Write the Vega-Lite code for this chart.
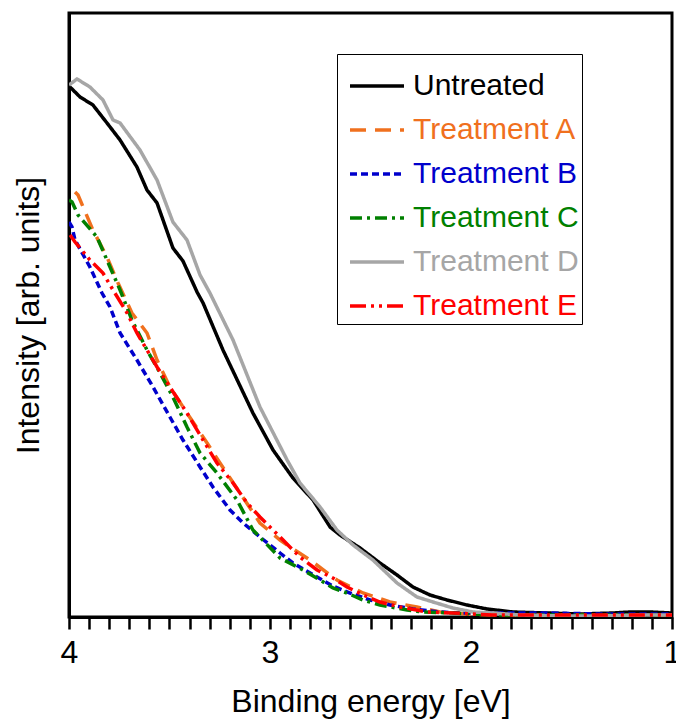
{
  "$schema": "https://vega.github.io/schema/vega-lite/v6.json",
  "autosize": "none",
  "width": 603,
  "height": 604,
  "padding": {"left": 69, "top": 13, "right": 4, "bottom": 108},
  "background": "white",
  "config": {
    "font": "Liberation Sans",
    "view": {"stroke": "black", "strokeWidth": 3}
  },
  "datasets": {
    "curves": [
      {"s": "Untreated", "x": 4.000, "y": 531}, {"s": "Untreated", "x": 3.945, "y": 520}, {"s": "Untreated", "x": 3.881, "y": 512}, {"s": "Untreated", "x": 3.811, "y": 494}, {"s": "Untreated", "x": 3.746, "y": 477}, {"s": "Untreated", "x": 3.662, "y": 450}, {"s": "Untreated", "x": 3.612, "y": 427}, {"s": "Untreated", "x": 3.562, "y": 414}, {"s": "Untreated", "x": 3.483, "y": 369}, {"s": "Untreated", "x": 3.433, "y": 356}, {"s": "Untreated", "x": 3.363, "y": 325}, {"s": "Untreated", "x": 3.333, "y": 314}, {"s": "Untreated", "x": 3.234, "y": 267}, {"s": "Untreated", "x": 3.085, "y": 204}, {"s": "Untreated", "x": 2.985, "y": 167}, {"s": "Untreated", "x": 2.886, "y": 139}, {"s": "Untreated", "x": 2.786, "y": 117}, {"s": "Untreated", "x": 2.701, "y": 90}, {"s": "Untreated", "x": 2.652, "y": 82}, {"s": "Untreated", "x": 2.552, "y": 69}, {"s": "Untreated", "x": 2.453, "y": 54}, {"s": "Untreated", "x": 2.368, "y": 42}, {"s": "Untreated", "x": 2.289, "y": 30}, {"s": "Untreated", "x": 2.204, "y": 22}, {"s": "Untreated", "x": 2.119, "y": 17}, {"s": "Untreated", "x": 2.020, "y": 12}, {"s": "Untreated", "x": 1.920, "y": 8}, {"s": "Untreated", "x": 1.791, "y": 5}, {"s": "Untreated", "x": 1.622, "y": 4}, {"s": "Untreated", "x": 1.458, "y": 3}, {"s": "Untreated", "x": 1.294, "y": 4}, {"s": "Untreated", "x": 1.209, "y": 5}, {"s": "Untreated", "x": 1.109, "y": 5}, {"s": "Untreated", "x": 1.000, "y": 4},

      {"s": "Treatment A", "x": 3.970, "y": 425}, {"s": "Treatment A", "x": 3.955, "y": 422}, {"s": "Treatment A", "x": 3.881, "y": 387}, {"s": "Treatment A", "x": 3.811, "y": 360}, {"s": "Treatment A", "x": 3.756, "y": 334}, {"s": "Treatment A", "x": 3.687, "y": 304}, {"s": "Treatment A", "x": 3.612, "y": 284}, {"s": "Treatment A", "x": 3.562, "y": 257}, {"s": "Treatment A", "x": 3.498, "y": 230}, {"s": "Treatment A", "x": 3.413, "y": 204}, {"s": "Treatment A", "x": 3.313, "y": 174}, {"s": "Treatment A", "x": 3.249, "y": 154}, {"s": "Treatment A", "x": 3.149, "y": 124}, {"s": "Treatment A", "x": 3.050, "y": 94}, {"s": "Treatment A", "x": 2.950, "y": 77}, {"s": "Treatment A", "x": 2.900, "y": 70}, {"s": "Treatment A", "x": 2.801, "y": 57}, {"s": "Treatment A", "x": 2.667, "y": 37}, {"s": "Treatment A", "x": 2.537, "y": 24}, {"s": "Treatment A", "x": 2.403, "y": 15}, {"s": "Treatment A", "x": 2.269, "y": 10}, {"s": "Treatment A", "x": 2.154, "y": 5}, {"s": "Treatment A", "x": 2.020, "y": 3}, {"s": "Treatment A", "x": 1.891, "y": 2}, {"s": "Treatment A", "x": 1.706, "y": 2}, {"s": "Treatment A", "x": 1.458, "y": 2}, {"s": "Treatment A", "x": 1.209, "y": 2}, {"s": "Treatment A", "x": 1.000, "y": 2},

      {"s": "Treatment B", "x": 4.000, "y": 395}, {"s": "Treatment B", "x": 3.985, "y": 390}, {"s": "Treatment B", "x": 3.970, "y": 377}, {"s": "Treatment B", "x": 3.896, "y": 350}, {"s": "Treatment B", "x": 3.836, "y": 324}, {"s": "Treatment B", "x": 3.796, "y": 310}, {"s": "Treatment B", "x": 3.746, "y": 284}, {"s": "Treatment B", "x": 3.662, "y": 257}, {"s": "Treatment B", "x": 3.582, "y": 230}, {"s": "Treatment B", "x": 3.498, "y": 200}, {"s": "Treatment B", "x": 3.433, "y": 177}, {"s": "Treatment B", "x": 3.348, "y": 150}, {"s": "Treatment B", "x": 3.284, "y": 130}, {"s": "Treatment B", "x": 3.199, "y": 107}, {"s": "Treatment B", "x": 3.134, "y": 94}, {"s": "Treatment B", "x": 3.050, "y": 80}, {"s": "Treatment B", "x": 2.950, "y": 64}, {"s": "Treatment B", "x": 2.886, "y": 54}, {"s": "Treatment B", "x": 2.766, "y": 40}, {"s": "Treatment B", "x": 2.687, "y": 31}, {"s": "Treatment B", "x": 2.602, "y": 24}, {"s": "Treatment B", "x": 2.502, "y": 17}, {"s": "Treatment B", "x": 2.403, "y": 12}, {"s": "Treatment B", "x": 2.289, "y": 8}, {"s": "Treatment B", "x": 2.154, "y": 5}, {"s": "Treatment B", "x": 2.055, "y": 4}, {"s": "Treatment B", "x": 1.856, "y": 4}, {"s": "Treatment B", "x": 1.607, "y": 4}, {"s": "Treatment B", "x": 1.358, "y": 3}, {"s": "Treatment B", "x": 1.000, "y": 3},

      {"s": "Treatment C", "x": 4.000, "y": 417}, {"s": "Treatment C", "x": 3.985, "y": 415}, {"s": "Treatment C", "x": 3.955, "y": 402}, {"s": "Treatment C", "x": 3.861, "y": 380}, {"s": "Treatment C", "x": 3.796, "y": 350}, {"s": "Treatment C", "x": 3.746, "y": 327}, {"s": "Treatment C", "x": 3.687, "y": 297}, {"s": "Treatment C", "x": 3.612, "y": 267}, {"s": "Treatment C", "x": 3.547, "y": 244}, {"s": "Treatment C", "x": 3.483, "y": 220}, {"s": "Treatment C", "x": 3.413, "y": 190}, {"s": "Treatment C", "x": 3.348, "y": 164}, {"s": "Treatment C", "x": 3.264, "y": 144}, {"s": "Treatment C", "x": 3.164, "y": 117}, {"s": "Treatment C", "x": 3.085, "y": 87}, {"s": "Treatment C", "x": 2.950, "y": 59}, {"s": "Treatment C", "x": 2.836, "y": 47}, {"s": "Treatment C", "x": 2.751, "y": 37}, {"s": "Treatment C", "x": 2.687, "y": 29}, {"s": "Treatment C", "x": 2.617, "y": 24}, {"s": "Treatment C", "x": 2.537, "y": 17}, {"s": "Treatment C", "x": 2.453, "y": 12}, {"s": "Treatment C", "x": 2.318, "y": 7}, {"s": "Treatment C", "x": 2.239, "y": 5}, {"s": "Treatment C", "x": 2.090, "y": 4}, {"s": "Treatment C", "x": 1.891, "y": 2}, {"s": "Treatment C", "x": 1.657, "y": 2}, {"s": "Treatment C", "x": 1.358, "y": 2}, {"s": "Treatment C", "x": 1.000, "y": 2},

      {"s": "Treatment D", "x": 4.000, "y": 532}, {"s": "Treatment D", "x": 3.960, "y": 538}, {"s": "Treatment D", "x": 3.896, "y": 530}, {"s": "Treatment D", "x": 3.831, "y": 517}, {"s": "Treatment D", "x": 3.781, "y": 497}, {"s": "Treatment D", "x": 3.746, "y": 494}, {"s": "Treatment D", "x": 3.647, "y": 467}, {"s": "Treatment D", "x": 3.562, "y": 437}, {"s": "Treatment D", "x": 3.483, "y": 395}, {"s": "Treatment D", "x": 3.413, "y": 377}, {"s": "Treatment D", "x": 3.348, "y": 342}, {"s": "Treatment D", "x": 3.299, "y": 324}, {"s": "Treatment D", "x": 3.184, "y": 277}, {"s": "Treatment D", "x": 3.050, "y": 210}, {"s": "Treatment D", "x": 2.915, "y": 157}, {"s": "Treatment D", "x": 2.851, "y": 134}, {"s": "Treatment D", "x": 2.751, "y": 110}, {"s": "Treatment D", "x": 2.667, "y": 87}, {"s": "Treatment D", "x": 2.587, "y": 72}, {"s": "Treatment D", "x": 2.488, "y": 57}, {"s": "Treatment D", "x": 2.368, "y": 34}, {"s": "Treatment D", "x": 2.269, "y": 20}, {"s": "Treatment D", "x": 2.189, "y": 15}, {"s": "Treatment D", "x": 2.090, "y": 9}, {"s": "Treatment D", "x": 1.990, "y": 5}, {"s": "Treatment D", "x": 1.891, "y": 4}, {"s": "Treatment D", "x": 1.756, "y": 2}, {"s": "Treatment D", "x": 1.557, "y": 1}, {"s": "Treatment D", "x": 1.358, "y": 1}, {"s": "Treatment D", "x": 1.159, "y": 2}, {"s": "Treatment D", "x": 1.000, "y": 2},

      {"s": "Treatment E", "x": 3.995, "y": 382}, {"s": "Treatment E", "x": 3.970, "y": 375}, {"s": "Treatment E", "x": 3.896, "y": 357}, {"s": "Treatment E", "x": 3.831, "y": 344}, {"s": "Treatment E", "x": 3.781, "y": 327}, {"s": "Treatment E", "x": 3.711, "y": 304}, {"s": "Treatment E", "x": 3.662, "y": 284}, {"s": "Treatment E", "x": 3.562, "y": 250}, {"s": "Treatment E", "x": 3.498, "y": 230}, {"s": "Treatment E", "x": 3.413, "y": 204}, {"s": "Treatment E", "x": 3.333, "y": 177}, {"s": "Treatment E", "x": 3.264, "y": 154}, {"s": "Treatment E", "x": 3.184, "y": 134}, {"s": "Treatment E", "x": 3.114, "y": 114}, {"s": "Treatment E", "x": 3.050, "y": 100}, {"s": "Treatment E", "x": 2.950, "y": 80}, {"s": "Treatment E", "x": 2.886, "y": 67}, {"s": "Treatment E", "x": 2.851, "y": 60}, {"s": "Treatment E", "x": 2.766, "y": 47}, {"s": "Treatment E", "x": 2.687, "y": 39}, {"s": "Treatment E", "x": 2.617, "y": 30}, {"s": "Treatment E", "x": 2.537, "y": 22}, {"s": "Treatment E", "x": 2.453, "y": 15}, {"s": "Treatment E", "x": 2.353, "y": 10}, {"s": "Treatment E", "x": 2.219, "y": 5}, {"s": "Treatment E", "x": 2.090, "y": 4}, {"s": "Treatment E", "x": 1.891, "y": 2}, {"s": "Treatment E", "x": 1.607, "y": 2}, {"s": "Treatment E", "x": 1.308, "y": 2}, {"s": "Treatment E", "x": 1.000, "y": 2}
    ]
  },
  "data": {"name": "curves"},
  "mark": {"type": "line", "strokeWidth": 3.5, "clip": true},
  "encoding": {
    "x": {
      "field": "x",
      "type": "quantitative",
      "scale": {"domain": [4, 1], "nice": false, "zero": false},
      "axis": {
        "title": "Binding energy [eV]",
        "titleFontSize": 32,
        "titleFontWeight": "normal",
        "titleColor": "black",
        "titlePadding": 18,
        "values": [1, 1.1, 1.2, 1.3, 1.4, 1.5, 1.6, 1.7, 1.8, 1.9, 2, 2.1, 2.2, 2.3, 2.4, 2.5, 2.6, 2.7, 2.8, 2.9, 3, 3.1, 3.2, 3.3, 3.4, 3.5, 3.6, 3.7, 3.8, 3.9, 4],
        "labelExpr": "abs(datum.value - round(datum.value)) < 0.01 ? format(datum.value, 'd') : ''",
        "labelFontSize": 32,
        "labelColor": "black",
        "labelFlush": false,
        "labelOverlap": false,
        "labelPadding": 8,
        "ticks": true,
        "tickSize": 12,
        "tickWidth": 2.5,
        "tickColor": "black",
        "domainColor": "black",
        "domainWidth": 3,
        "grid": false,
        "encode": {
          "ticks": {
            "update": {
              "y2": {"signal": "abs(datum.value * 2 - round(datum.value * 2)) < 0.01 ? 12 : 7"}
            }
          }
        }
      }
    },
    "y": {
      "field": "y",
      "type": "quantitative",
      "scale": {"domain": [0, 604], "nice": false},
      "axis": {
        "title": "Intensity [arb. units]",
        "titleFontSize": 32,
        "titleFontWeight": "normal",
        "titleColor": "black",
        "titlePadding": 24,
        "labels": false,
        "ticks": false,
        "grid": false,
        "domainColor": "black",
        "domainWidth": 3
      }
    },
    "color": {
      "field": "s",
      "type": "nominal",
      "scale": {
        "domain": ["Untreated", "Treatment A", "Treatment B", "Treatment C", "Treatment D", "Treatment E"],
        "range": ["#000000", "#F0701E", "#0000CC", "#008000", "#A6A6A6", "#FF0000"]
      },
      "legend": {
        "title": null,
        "orient": "none",
        "legendX": 268,
        "legendY": 41,
        "strokeColor": "black",
        "fillColor": "white",
        "padding": 3,
        "labelFontSize": 30,
        "labelLimit": 300,
        "labelOffset": 7,
        "labelColor": {"expr": "scale('color', datum.value)"},
        "symbolOffset": 8,
        "symbolType": "stroke",
        "symbolSize": 2916,
        "symbolStrokeWidth": 3.5,
        "rowPadding": -14
      }
    },
    "strokeDash": {
      "field": "s",
      "type": "nominal",
      "scale": {
        "domain": ["Untreated", "Treatment A", "Treatment B", "Treatment C", "Treatment D", "Treatment E"],
        "range": [[1, 0], [16, 9], [7, 4], [12, 5, 3, 5], [1, 0], [16, 5, 3, 5, 3, 5]]
      }
    }
  }
}
